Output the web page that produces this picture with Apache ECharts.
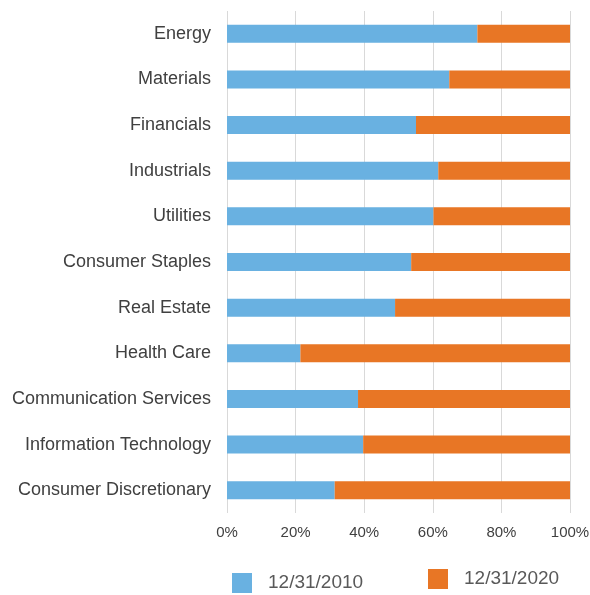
<!DOCTYPE html>
<html>
<head>
<meta charset="utf-8">
<script src="https://cdn.jsdelivr.net/npm/echarts@6/dist/echarts.min.js"></script>
<style>
  html, body { margin: 0; padding: 0; background: #fff; }
  #chart { width: 590px; height: 595px; }
</style>
</head>
<body>
<div id="chart"></div>
<script>
// sectors listed bottom to top (category axis on y starts at the bottom)
const sectors = [
  'Consumer Discretionary',
  'Information Technology',
  'Communication Services',
  'Health Care',
  'Real Estate',
  'Consumer Staples',
  'Utilities',
  'Industrials',
  'Financials',
  'Materials',
  'Energy',
]
// share held at 12/31/2010, percent
const share2010 = [31.4, 39.7, 38.2, 21.4, 49.0, 53.7, 60.2, 61.6, 55.1, 64.8, 73.0]
// remainder up to 100 attributed to 12/31/2020
const share2020 = share2010.map((v) => +(100 - v).toFixed(1))
const seriesNames = ['12/31/2010', '12/31/2020']

const chart = echarts.init(document.getElementById('chart'))

const legendText = { color: '#595959', fontSize: 19, fontFamily: 'Liberation Sans, Arial, sans-serif', padding: [8, 0, 0, 11] }

chart.setOption({
  animation: false,
  color: ['#69b1e1', '#e87625'],
  legend: [
    {
      data: [seriesNames[0]],
      left: 232,
      top: 573,
      padding: 0,
      icon: 'rect',
      itemWidth: 20,
      itemHeight: 20,
      textStyle: legendText,
    },
    {
      data: [seriesNames[1]],
      left: 428,
      top: 569,
      padding: 0,
      icon: 'rect',
      itemWidth: 20,
      itemHeight: 20,
      textStyle: legendText,
    },
  ],
  grid: {
    left: 227,
    right: 20,
    top: 11,
    bottom: 82,
    containLabel: false,
    outerBoundsMode: 'none',
  },
  xAxis: {
    type: 'value',
    min: 0,
    max: 100,
    interval: 20,
    axisLine: { show: false },
    axisTick: { show: false },
    splitLine: { lineStyle: { color: '#d9d9d9', width: 1 } },
    axisLabel: {
      color: '#404040',
      fontSize: 15,
      fontFamily: 'Liberation Sans, Arial, sans-serif',
      margin: 12,
      formatter: (v) => v + '%',
    },
  },
  yAxis: {
    type: 'category',
    data: sectors,
    axisLine: { show: false },
    axisTick: { show: false },
    axisLabel: {
      color: '#404040',
      fontSize: 18,
      fontFamily: 'Liberation Sans, Arial, sans-serif',
      margin: 16,
    },
  },
  series: [
    {
      name: seriesNames[0],
      type: 'bar',
      stack: 'share',
      barWidth: 18,
      data: share2010,
    },
    {
      name: seriesNames[1],
      type: 'bar',
      stack: 'share',
      barWidth: 18,
      data: share2020,
    },
  ],
})
</script>
</body>
</html>
